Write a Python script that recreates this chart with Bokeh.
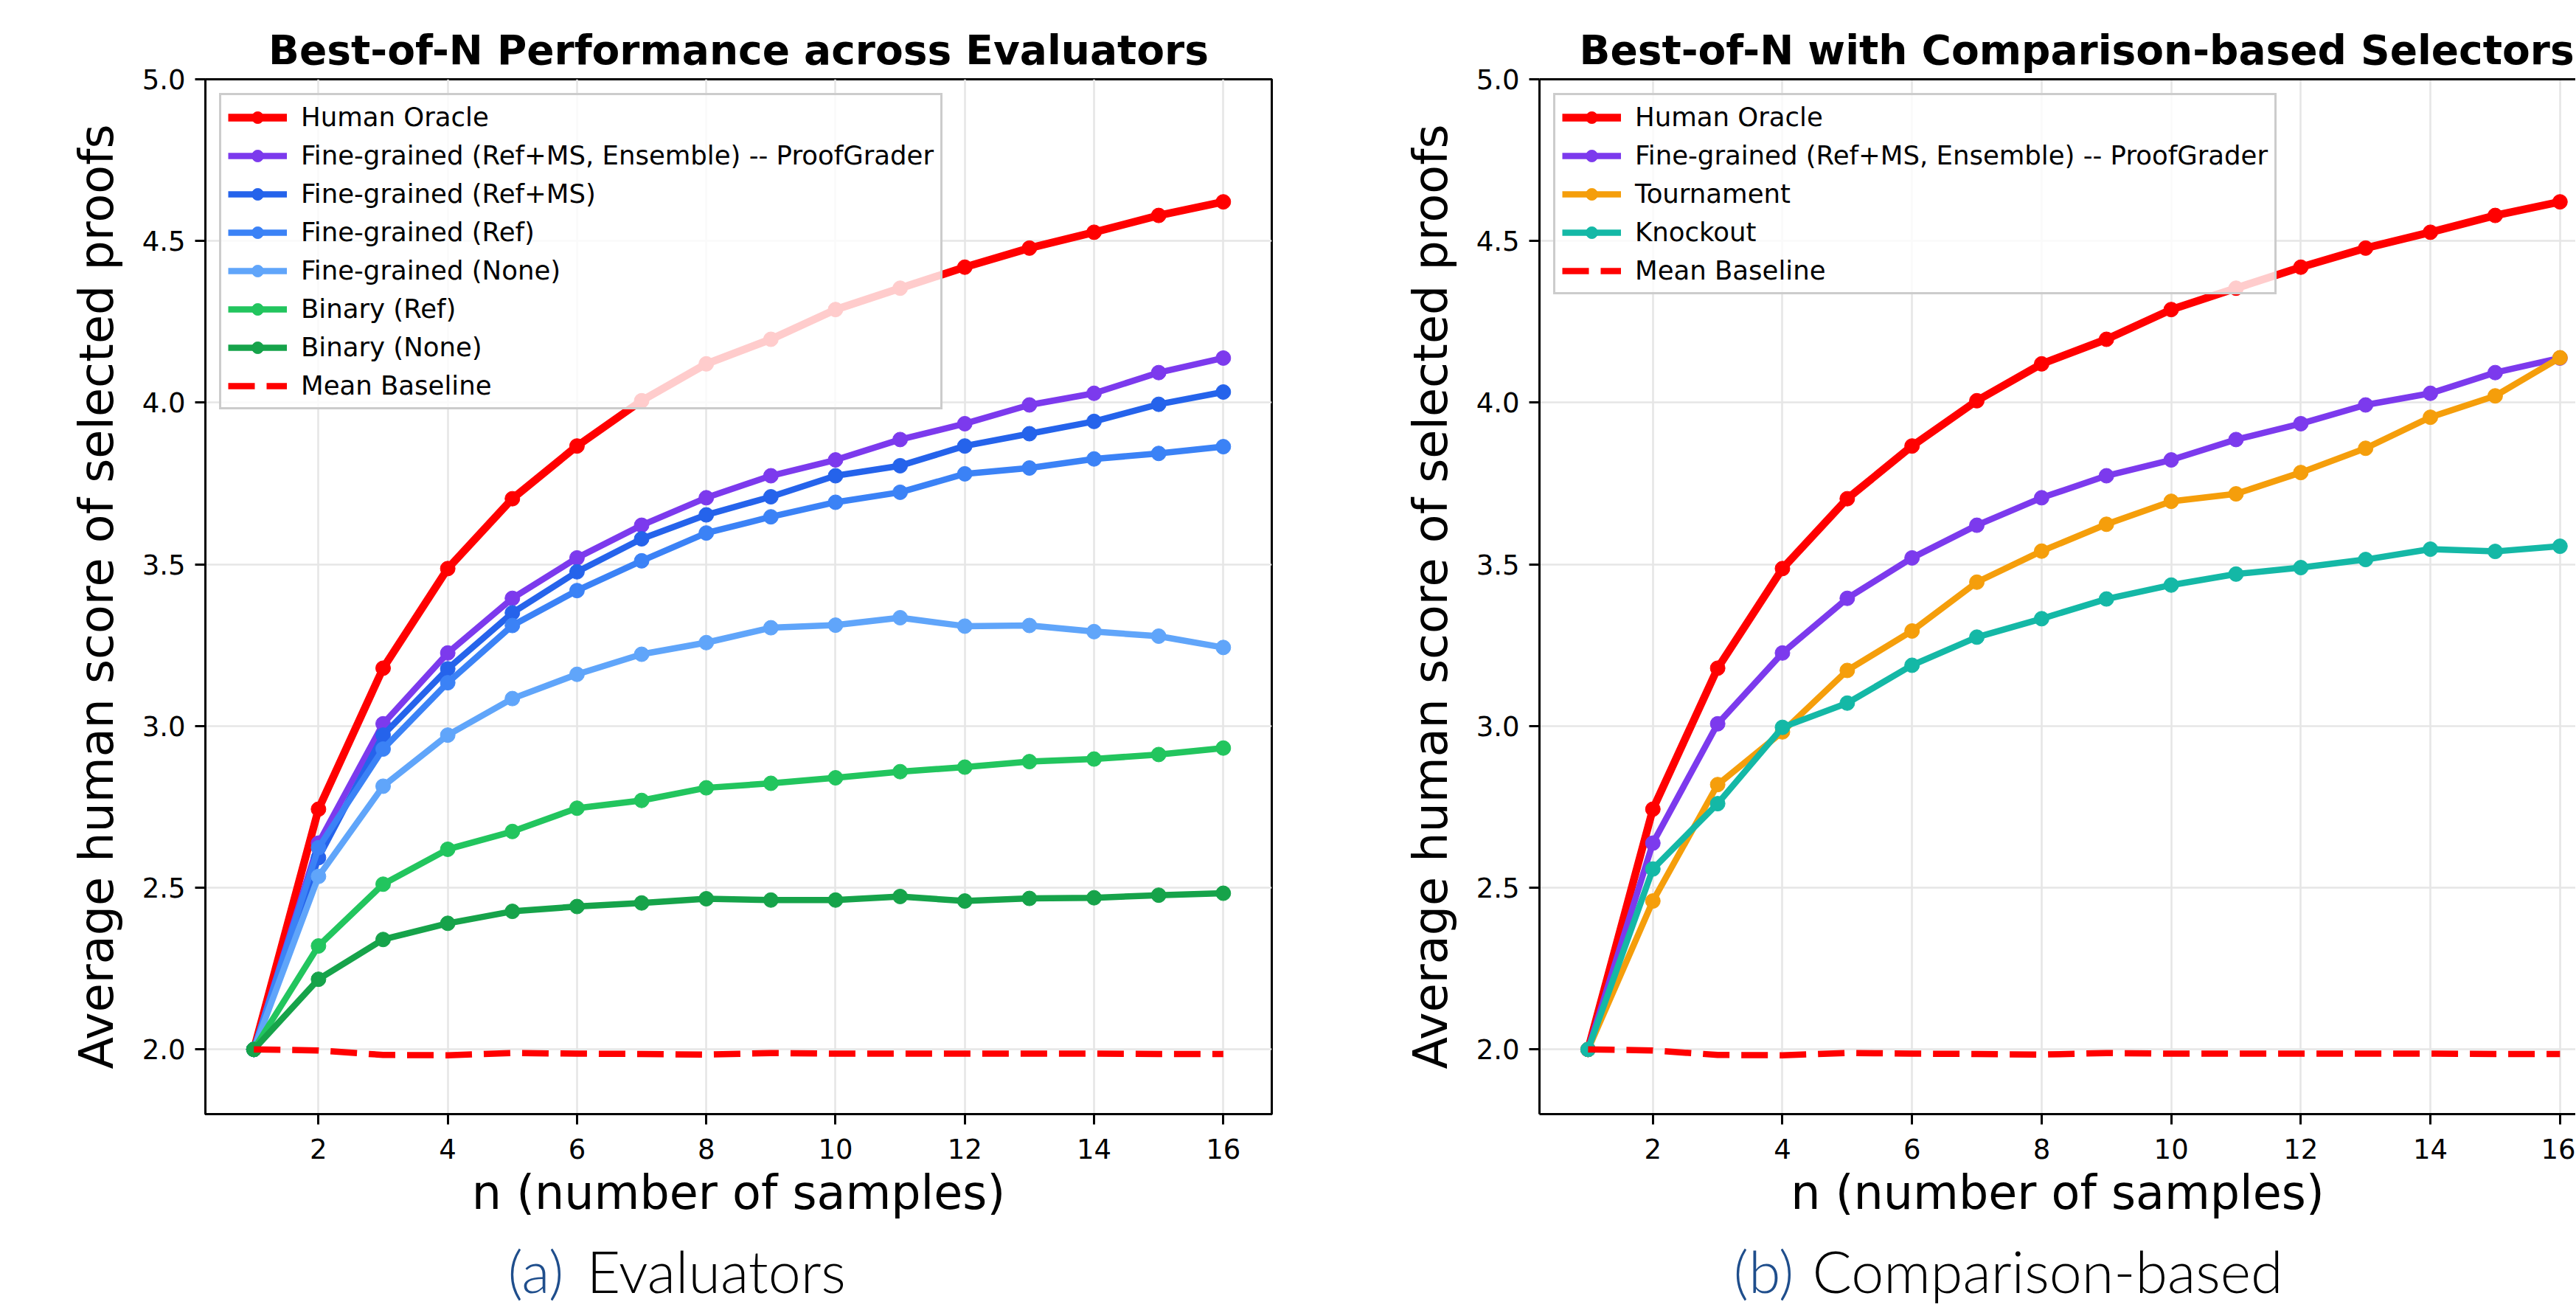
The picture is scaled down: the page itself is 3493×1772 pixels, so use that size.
from bokeh.plotting import figure
from bokeh.models import (Legend, LegendItem, FixedTicker, LinearAxis, Label,
                          Range1d, PrintfTickFormatter)
from bokeh.layouts import row, column
from bokeh.embed import file_html
from bokeh.resources import INLINE

# ---------------- data ----------------
n_samples = list(range(1, 17))
x_ticks = [2, 4, 6, 8, 10, 12, 14, 16]
y_ticks = [2.0, 2.5, 3.0, 3.5, 4.0, 4.5, 5.0]

human_oracle = [2.0, 2.743, 3.179, 3.487, 3.703, 3.866, 4.006, 4.120,
                4.196, 4.288, 4.354, 4.419, 4.478, 4.527, 4.579, 4.621]
fg_ensemble = [2.0, 2.638, 3.007, 3.226, 3.395, 3.520, 3.621, 3.706,
               3.774, 3.823, 3.886, 3.935, 3.993, 4.029, 4.093, 4.138]
fg_ref_ms = [2.0, 2.593, 2.972, 3.177, 3.350, 3.477, 3.579, 3.653,
             3.709, 3.774, 3.805, 3.866, 3.904, 3.942, 3.995, 4.033]
fg_ref = [2.0, 2.624, 2.929, 3.134, 3.311, 3.419, 3.511, 3.597,
          3.647, 3.692, 3.723, 3.780, 3.798, 3.826, 3.843, 3.864]
fg_none = [2.0, 2.535, 2.814, 2.972, 3.085, 3.160, 3.222, 3.258,
           3.304, 3.312, 3.335, 3.309, 3.311, 3.292, 3.278, 3.243]
binary_ref = [2.0, 2.320, 2.511, 2.619, 2.674, 2.746, 2.770, 2.809,
              2.823, 2.840, 2.859, 2.873, 2.890, 2.898, 2.912, 2.932]
binary_none = [2.0, 2.217, 2.340, 2.390, 2.427, 2.442, 2.453, 2.466,
               2.462, 2.462, 2.473, 2.459, 2.467, 2.469, 2.477, 2.483]
mean_baseline = [2.0, 1.997, 1.983, 1.982, 1.989, 1.987, 1.986, 1.984,
                 1.989, 1.987, 1.987, 1.987, 1.987, 1.987, 1.986, 1.986]
tournament = [2.0, 2.459, 2.819, 2.982, 3.172, 3.294, 3.445, 3.541,
              3.624, 3.695, 3.718, 3.784, 3.859, 3.955, 4.021, 4.139]
knockout = [2.0, 2.558, 2.760, 2.996, 3.071, 3.188, 3.275, 3.332,
            3.393, 3.436, 3.470, 3.490, 3.515, 3.547, 3.540, 3.556]

left_series = [
    ("Human Oracle", human_oracle, "#ff0000", 10.5, True),
    ("Fine-grained (Ref+MS, Ensemble) -- ProofGrader", fg_ensemble, "#7c3aed", 8.5, True),
    ("Fine-grained (Ref+MS)", fg_ref_ms, "#2563eb", 8.5, True),
    ("Fine-grained (Ref)", fg_ref, "#3b82f6", 8.5, True),
    ("Fine-grained (None)", fg_none, "#60a5fa", 8.5, True),
    ("Binary (Ref)", binary_ref, "#22c55e", 8.5, True),
    ("Binary (None)", binary_none, "#16a34a", 8.5, True),
    ("Mean Baseline", mean_baseline, "#ff0000", 8.5, False),
]
right_series = [
    ("Human Oracle", human_oracle, "#ff0000", 10.5, True),
    ("Fine-grained (Ref+MS, Ensemble) -- ProofGrader", fg_ensemble, "#7c3aed", 8.5, True),
    ("Tournament", tournament, "#f59e0b", 8.5, True),
    ("Knockout", knockout, "#14b8a6", 8.5, True),
    ("Mean Baseline", mean_baseline, "#ff0000", 8.5, False),
]

FONT = "DejaVu Sans"
TOTAL_W, TOTAL_H = 3492, 1771
FRAME_TOP = 107
FRAME_H = 1403
TOP_H = 1664
W1 = 1764


def make_panel(title, series, width, border_left, border_right, x_end, outline,
               title_align, title_offset):
    p = figure(width=width, height=TOP_H, output_backend="svg", toolbar_location=None,
               x_range=Range1d(0.25, x_end), y_range=Range1d(1.8, 5.0),
               min_border_left=border_left, min_border_right=border_right,
               min_border_top=FRAME_TOP, min_border_bottom=TOP_H - FRAME_TOP - FRAME_H,
               background_fill_color="white", border_fill_color="white")
    p.title.text = title
    p.title.text_font = FONT
    p.title.text_font_style = "bold"
    p.title.text_font_size = "55px"
    p.title.text_color = "black"
    p.title.align = title_align
    p.title.offset = title_offset
    p.title.standoff = 16

    p.xaxis.ticker = FixedTicker(ticks=x_ticks)
    p.yaxis.ticker = FixedTicker(ticks=y_ticks)
    p.xaxis.formatter = PrintfTickFormatter(format="%d")
    p.yaxis.formatter = PrintfTickFormatter(format="%.1f")
    for ax in (p.xaxis, p.yaxis):
        ax.axis_line_width = 3
        ax.axis_line_color = "black"
        ax.major_tick_line_width = 3
        ax.major_tick_line_color = "black"
        ax.major_tick_out = 14
        ax.major_tick_in = 0
        ax.minor_tick_line_color = None
        ax.major_label_text_font = FONT
        ax.major_label_text_font_size = "37px"
        ax.major_label_text_color = "black"
        ax.axis_label_text_font = FONT
        ax.axis_label_text_font_size = "63.5px"
        ax.axis_label_text_font_style = "normal"
        ax.axis_label_text_color = "black"
    p.xaxis.axis_label = "n (number of samples)"
    p.yaxis.axis_label = "Average human score of selected proofs"
    p.xaxis.major_label_standoff = 19
    p.yaxis.major_label_standoff = 13
    p.xaxis.axis_label_standoff = 6
    p.yaxis.axis_label_standoff = 22

    if outline:
        p.outline_line_color = "black"
        p.outline_line_width = 3
        p.outline_line_alpha = 1.0
    else:
        # top spine only (right side of this panel is cut by the page edge)
        p.outline_line_color = None
        top = LinearAxis(ticker=FixedTicker(ticks=[]), axis_label=None,
                         major_label_text_font_size="0px", major_label_standoff=0,
                         axis_label_standoff=0, axis_line_width=3, axis_line_color="black",
                         major_tick_line_color=None, minor_tick_line_color=None,
                         major_tick_out=0, major_tick_in=0)
        p.add_layout(top, "above")

    p.xgrid.ticker = FixedTicker(ticks=x_ticks)
    p.ygrid.ticker = FixedTicker(ticks=y_ticks)
    for g in (p.xgrid, p.ygrid):
        g.grid_line_color = "#e6e6e6"
        g.grid_line_width = 2.6

    items = []
    for label, ys, color, lw, marker in series:
        rs = []
        if marker:
            rs.append(p.line(n_samples, ys, line_color=color, line_width=lw, line_join="round"))
            rs.append(p.scatter(n_samples, ys, size=20, fill_color=color, line_color=color,
                                line_width=1))
        else:
            rs.append(p.line(n_samples, ys, line_color=color, line_width=lw,
                             line_dash="36 16"))
        items.append(LegendItem(label=label, renderers=rs))

    legend = Legend(items=items, location="top_left", margin=19, padding=9,
                    spacing=11, glyph_width=80, glyph_height=40, label_height=40,
                    label_standoff=19, label_text_font=FONT, label_text_font_size="35.5px",
                    label_text_color="black",
                    background_fill_color="white", background_fill_alpha=0.8,
                    border_line_color="#cccccc", border_line_width=3, border_line_alpha=1.0)
    p.add_layout(legend)
    return p


W2 = TOTAL_W - W1
p1 = make_panel("Best-of-N Performance across Evaluators", left_series,
                W1, 278, 40, 16.75, True, "center", 0)
p2 = make_panel("Best-of-N with Comparison-based Selectors", right_series,
                W2, 323, 0, 0.25 + (W2 - 323) / 87.86, False, "left", 54)

CAP_H = TOTAL_H - TOP_H
cap = figure(width=TOTAL_W, height=CAP_H, output_backend="svg", toolbar_location=None,
             x_range=Range1d(0, TOTAL_W), y_range=Range1d(0, CAP_H),
             min_border=0, outline_line_color=None,
             background_fill_color="white", border_fill_color="white")
cap.axis.visible = False
cap.grid.visible = False
CAP_FONT = "Lato Light"
for xpos, txt, align, color in [(764, "(a)", "right", "#1f4e8c"),
                                (795, "Evaluators", "left", "black"),
                                (2432, "(b)", "right", "#1f4e8c"),
                                (2457, "Comparison-based", "left", "black")]:
    cap.add_layout(Label(x=xpos, y=CAP_H - 58, text=txt, text_font=CAP_FONT,
                         text_font_size="79px", text_align=align, text_baseline="middle",
                         text_color=color))

layout = column(row(p1, p2), cap)
open("out.html", "w").write(file_html(layout, INLINE))
